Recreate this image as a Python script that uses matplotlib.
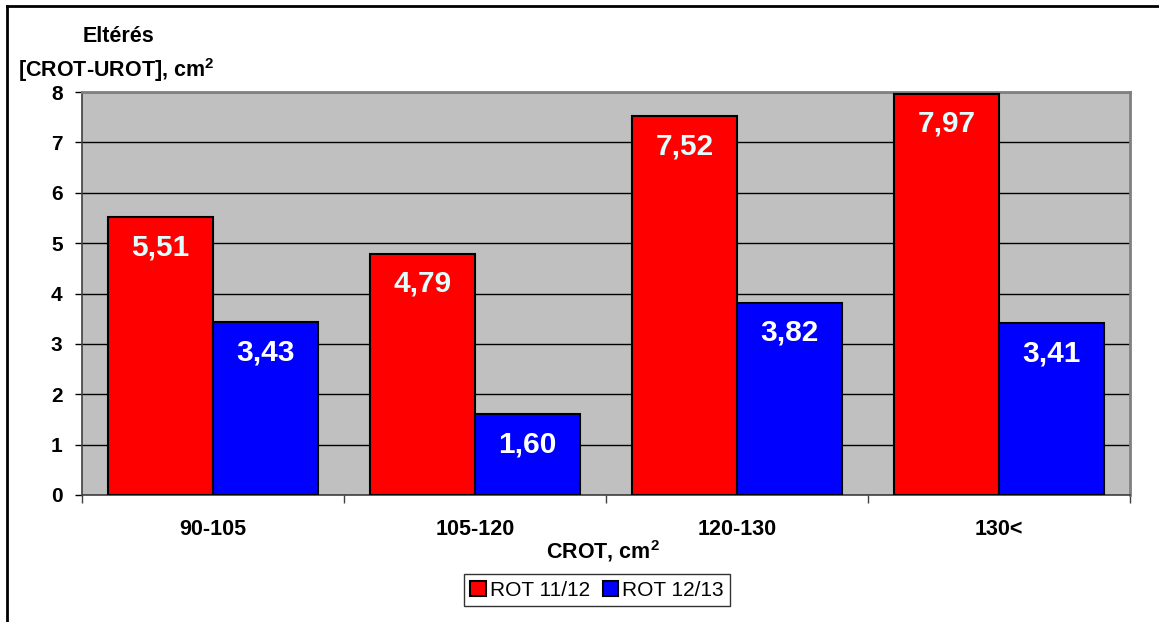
import matplotlib
matplotlib.use("Agg")
import matplotlib.pyplot as plt
from matplotlib.lines import Line2D
import numpy as np

categories = ["90-105", "105-120", "120-130", "130<"]
rot_1112 = [5.51, 4.79, 7.52, 7.97]
rot_1213 = [3.43, 1.60, 3.82, 3.41]
series_names = ["ROT 11/12", "ROT 12/13"]
yticks = [0, 1, 2, 3, 4, 5, 6, 7, 8]

plt.rcParams['font.family'] = ['Liberation Sans', 'DejaVu Sans']
plt.rcParams['mathtext.fontset'] = 'custom'
plt.rcParams['mathtext.rm'] = 'Liberation Sans'
plt.rcParams['mathtext.bf'] = 'Liberation Sans:bold'

fig = plt.figure(figsize=(11.59, 6.22), dpi=100)
ax = fig.add_axes([82/1159, 1-495/622, (1130-82)/1159, (495-92)/622])
ax.set_facecolor('#C0C0C0')

x = np.arange(len(categories))
w = 0.4
b1 = ax.bar(x - w/2, rot_1112, w, color='#FF0000', edgecolor='black', linewidth=1.5, zorder=3, label=series_names[0])
b2 = ax.bar(x + w/2, rot_1213, w, color='#0000FF', edgecolor='black', linewidth=1.5, zorder=3, label=series_names[1])

for bars, vals, tc in ((b1, rot_1112, '#E0FFFF'), (b2, rot_1213, '#FFFFFF')):
    for r, v in zip(bars, vals):
        ax.annotate(f"{v:.2f}".replace('.', ','), (r.get_x() + r.get_width()/2, v),
                    xytext=(0, -21.5), textcoords='offset points', ha='center', va='center',
                    color=tc, fontsize=21.5, fontweight='bold', zorder=4)

ax.set_xlim(-0.5, len(categories) - 0.5)
ax.set_ylim(0, 8)
ax.set_yticks(yticks)
ax.set_yticklabels([str(t) for t in yticks], fontsize=15, fontweight='bold')
ax.yaxis.grid(True, color='black', linewidth=1.0, zorder=1)
ax.set_axisbelow(True)
ax.set_xticks(x)
ax.set_xticklabels(categories, fontsize=15.5, fontweight='bold')
ax.tick_params(axis='x', which='major', length=0, pad=17)
ax.set_xticks(np.arange(-0.5, len(categories), 1.0), minor=True)
ax.tick_params(axis='x', which='minor', length=6, width=1, color='#404040', direction='out')
ax.tick_params(axis='y', length=5, width=1, direction='out', pad=9)

for s in ['top', 'right']:
    ax.spines[s].set_color('#808080')
    ax.spines[s].set_linewidth(2)
ax.spines['left'].set_color('#404040')
ax.spines['bottom'].set_color('#404040')
ax.spines['left'].set_linewidth(1.2)
ax.spines['bottom'].set_linewidth(1.2)

fig.text(118/1159, 1-37/622, "Eltérés", ha='center', va='center', fontsize=15.5, fontweight='bold')
fig.text(18/1159, 1-70/622, r"[CROT-UROT], cm$^{\mathbf{2}}$", ha='left', va='center', fontsize=15.5, fontweight='bold')
fig.text(603/1159, 1-551/622, r"CROT, cm$^{\mathbf{2}}$", ha='center', va='center', fontsize=15.5, fontweight='bold')

leg = fig.legend(handles=[b1, b2], labels=series_names, loc='center', bbox_to_anchor=(597/1159, 1-590/622),
                 ncol=2, fontsize=15, frameon=True, fancybox=False, edgecolor='black',
                 handlelength=0.75, handleheight=0.75, handletextpad=0.2, columnspacing=0.6,
                 borderpad=0.3, borderaxespad=0)
leg.get_frame().set_linewidth(1.0)

fig.add_artist(Line2D([7/1159, 7/1159], [0, 1-6/622], color='black', linewidth=2, transform=fig.transFigure))
fig.add_artist(Line2D([7/1159, 1], [1-6/622, 1-6/622], color='black', linewidth=2, transform=fig.transFigure))

fig.savefig("out.png", dpi=100)
